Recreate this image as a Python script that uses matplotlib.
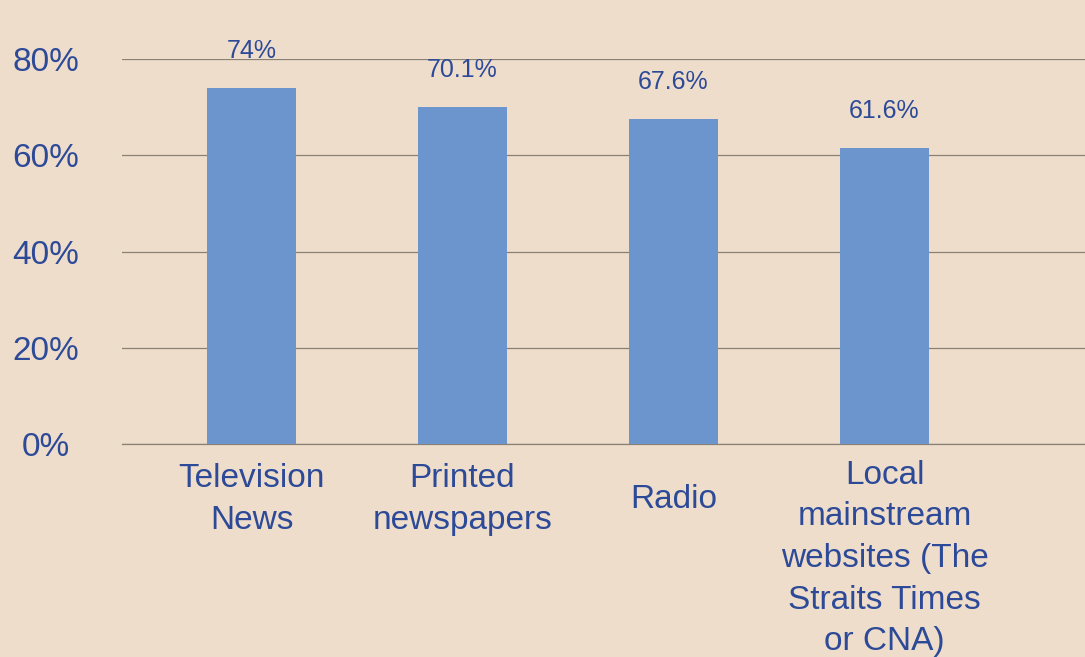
import matplotlib
matplotlib.use("Agg")
import matplotlib.pyplot as plt
from matplotlib.transforms import ScaledTranslation

categories = ["Television\nNews", "Printed\nnewspapers", "Radio",
              "Local\nmainstream\nwebsites (The\nStraits Times\nor CNA)"]
values = [74, 70.1, 67.6, 61.6]
value_labels = ["74%", "70.1%", "67.6%", "61.6%"]
yticks = [0, 20, 40, 60, 80]
ytick_labels = ["0%", "20%", "40%", "60%", "80%"]

BG = "#EEDDCB"
BAR = "#6C95CE"
TXT = "#2C4A98"
GRID = "#8A8175"

plt.rcParams["font.family"] = ["Liberation Sans", "DejaVu Sans"]

fig = plt.figure(figsize=(10.85, 6.57), dpi=100, facecolor=BG)
ax = fig.add_axes([122/1085, 1 - 444/657, (1085-122)/1085 + 0.02, (444-59)/657])
ax.set_facecolor(BG)

x = list(range(len(categories)))
bars = ax.bar(x, values, width=0.42, color=BAR, zorder=3)

ax.set_ylim(0, 80)
ax.set_xlim(-0.614, 3.95 + 0.02*1085/211)
ax.set_yticks(yticks)
ax.set_yticklabels(ytick_labels, fontsize=24, color=TXT, ha="center")
ax.tick_params(axis="y", length=0, pad=55)
ax.set_xticks(x)
ax.set_xticklabels(categories, fontsize=24, color=TXT, va="center", linespacing=1.44)
ax.tick_params(axis="x", length=0, pad=40)

ax.grid(axis="y", color=GRID, linewidth=0.9, zorder=0)
for s in ["top", "right", "left"]:
    ax.spines[s].set_visible(False)
ax.spines["bottom"].set_color(GRID)
ax.spines["bottom"].set_linewidth(0.9)

labels = ax.get_xticklabels()
labels[3].set_transform(labels[3].get_transform() + ScaledTranslation(0, -0.59, fig.dpi_scale_trans))

for b, lab in zip(bars, value_labels):
    ax.annotate(lab, (b.get_x() + b.get_width()/2, b.get_height()),
                xytext=(0, 18), textcoords="offset points", ha="center", va="bottom",
                fontsize=18, color=TXT, annotation_clip=False)

fig.savefig("out.png", dpi=100, facecolor=BG)
